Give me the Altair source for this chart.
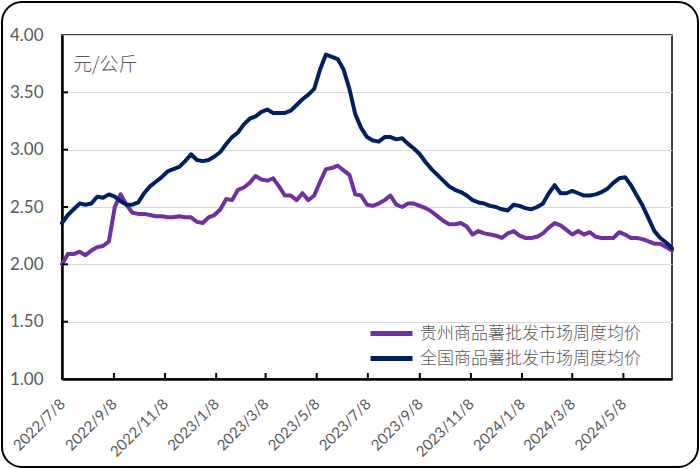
import altair as alt
import pandas as pd

# ---- data ----
dates = pd.date_range("2022-07-08", periods=105, freq="7D")
series_names = ["贵州商品薯批发市场周度均价", "全国商品薯批发市场周度均价"]
series_colors = ["#7030A0", "#002060"]

guizhou = [
    2.00, 2.09, 2.09, 2.11, 2.08, 2.12, 2.15, 2.16, 2.20, 2.50,
    2.61, 2.52, 2.45, 2.44, 2.44, 2.43, 2.42, 2.42, 2.41, 2.41,
    2.42, 2.41, 2.41, 2.37, 2.36, 2.41, 2.43, 2.48, 2.57, 2.56,
    2.65, 2.67, 2.71, 2.77, 2.74, 2.73, 2.75, 2.68, 2.60, 2.60,
    2.56, 2.62, 2.56, 2.60, 2.72, 2.83, 2.84, 2.86, 2.82, 2.78,
    2.61, 2.60, 2.52, 2.51, 2.53, 2.56, 2.60, 2.52, 2.50, 2.53,
    2.53, 2.51, 2.49, 2.46, 2.42, 2.38, 2.35, 2.35, 2.36, 2.33,
    2.26, 2.29, 2.27, 2.26, 2.25, 2.23, 2.27, 2.29, 2.25, 2.23,
    2.23, 2.24, 2.27, 2.32, 2.36, 2.34, 2.30, 2.26, 2.29, 2.26,
    2.28, 2.24, 2.23, 2.23, 2.23, 2.28, 2.26, 2.23, 2.23, 2.22,
    2.20, 2.18, 2.18, 2.15, 2.12,
]
national = [
    2.36, 2.43, 2.48, 2.53, 2.52, 2.53, 2.59, 2.58, 2.61, 2.59,
    2.55, 2.52, 2.52, 2.54, 2.62, 2.68, 2.72, 2.76, 2.81, 2.83,
    2.85, 2.90, 2.96, 2.91, 2.90, 2.91, 2.94, 2.98, 3.05, 3.11,
    3.15, 3.22, 3.27, 3.29, 3.33, 3.35, 3.32, 3.32, 3.32, 3.34,
    3.39, 3.44, 3.48, 3.53, 3.70, 3.83, 3.81, 3.79, 3.70, 3.53,
    3.31, 3.19, 3.11, 3.08, 3.07, 3.11, 3.11, 3.09, 3.10, 3.05,
    3.01, 2.96, 2.89, 2.83, 2.78, 2.73, 2.68, 2.65, 2.63, 2.60,
    2.56, 2.54, 2.53, 2.51, 2.50, 2.48, 2.47, 2.52, 2.51, 2.49,
    2.48, 2.50, 2.53, 2.62, 2.69, 2.62, 2.62, 2.64, 2.62, 2.60,
    2.60, 2.61, 2.63, 2.66, 2.71, 2.75, 2.76, 2.69, 2.60, 2.51,
    2.40, 2.29, 2.23, 2.19, 2.14,
]
x_tick_dates = [
    (2022, 7, 8), (2022, 9, 8), (2022, 11, 8), (2023, 1, 8), (2023, 3, 8),
    (2023, 5, 8), (2023, 7, 8), (2023, 9, 8), (2023, 11, 8), (2024, 1, 8),
    (2024, 3, 8), (2024, 5, 8),
]
y_ticks = [1.0, 1.5, 2.0, 2.5, 3.0, 3.5, 4.0]
unit_label = "元/公斤"

# ---- layout ----
W, H = 610, 344
PAD = {"left": 62, "top": 35, "right": 28, "bottom": 90}
FONT = "Lato"
CJK = "Noto Sans CJK SC"
GRAY = "#595959"

df = pd.DataFrame({
    "date": list(dates) * 2,
    "value": guizhou + national,
    "series": [series_names[0]] * len(guizhou) + [series_names[1]] * len(national),
})
tick_df = pd.DataFrame({"date": [pd.Timestamp(y, m, d) for (y, m, d) in x_tick_dates[1:]]})
ytick_df = pd.DataFrame({"v": y_ticks[1:-1]})

x_scale = alt.Scale(domain=[alt.DateTime(year=2022, month=7, date=8),
                            alt.DateTime(year=2024, month=7, date=5)])
y_scale = alt.Scale(domain=[1, 4], nice=False, zero=False)

x_axis = alt.Axis(
    values=[alt.DateTime(year=y, month=m, date=d) for (y, m, d) in x_tick_dates],
    format="%Y/%-m/%-d", labelAngle=-45, labelAlign="right", labelBaseline="middle",
    labelFont=FONT, labelFontSize=15, labelColor=GRAY, labelPadding=22,
    ticks=False, grid=False, domainColor="black", domainWidth=2.5, title=None,
    labelOverlap=False,
)
y_axis = alt.Axis(
    values=y_ticks, format=".2f", labelFont=FONT, labelFontSize=17, labelColor=GRAY,
    labelPadding=19, ticks=False, grid=True, gridColor="#D9D9D9", gridWidth=1,
    domainColor="black", domainWidth=2.5, title=None,
)

lines = alt.Chart(df).mark_line(strokeWidth=4, strokeJoin="round", strokeCap="round").encode(
    x=alt.X("date:T", scale=x_scale, axis=x_axis),
    y=alt.Y("value:Q", scale=y_scale, axis=y_axis),
    color=alt.Color("series:N", sort=series_names,
                    scale=alt.Scale(domain=series_names, range=series_colors),
                    legend=alt.Legend(title=None, orient="none", legendX=306, legendY=286,
                                      symbolType="stroke", symbolSize=1764, symbolStrokeWidth=5,
                                      labelFont=CJK, labelFontSize=17, labelColor=GRAY,
                                      labelFontWeight=300, labelLimit=400, padding=0,
                                      clipHeight=25, rowPadding=0, symbolOffset=0,
                                      labelOffset=5)),
    order=alt.Order("series:N"),
)

xticks = alt.Chart(tick_df).mark_rule(color="black", strokeWidth=2).encode(
    x=alt.X("date:T", scale=x_scale),
    y=alt.value(H - 6), y2=alt.value(H),
)
yticks = alt.Chart(ytick_df).mark_rule(color="black", strokeWidth=2).encode(
    y=alt.Y("v:Q", scale=y_scale),
    x=alt.value(0), x2=alt.value(6),
)
unit = alt.Chart(pd.DataFrame({"t": [unit_label]})).mark_text(
    font=CJK, fontSize=19, color=GRAY, align="left", baseline="middle", fontWeight=300,
).encode(text="t:N", x=alt.value(11), y=alt.value(30))

frame = alt.Chart(pd.DataFrame({"a": [0]})).mark_rect(
    fill="white", fillOpacity=0, stroke="black", strokeWidth=2, cornerRadius=20,
).encode(x=alt.value(-60), x2=alt.value(W + 26), y=alt.value(-33), y2=alt.value(H + 88))

chart = alt.layer(frame, lines, xticks, yticks, unit).properties(
    width=W, height=H, padding=PAD, autosize=alt.AutoSizeParams(type="none"),
    background="white",
).configure_view(stroke="black", strokeWidth=1.5)

chart.save("out.html", embed_options={"renderer": "svg", "actions": False})
